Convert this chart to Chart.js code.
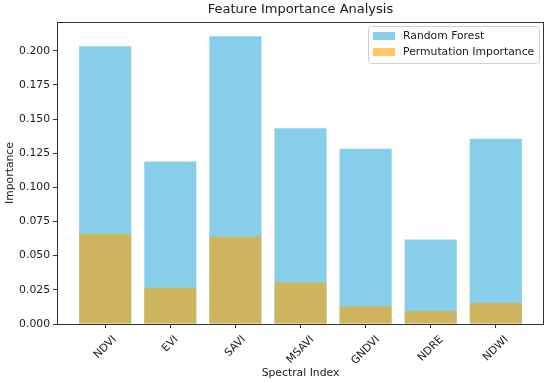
<!DOCTYPE html>
<html>
<head>
<meta charset="utf-8">
<script src="https://cdn.jsdelivr.net/npm/chart.js@4/dist/chart.umd.min.js"></script>
<style>
  body { margin: 0; background: #fff; }
</style>
</head>
<body>
<canvas id="chart" width="550" height="383"></canvas>
<script>
// Data
const indices = ['NDVI', 'EVI', 'SAVI', 'MSAVI', 'GNDVI', 'NDRE', 'NDWI'];
const randomForest = [0.2032, 0.1189, 0.2105, 0.1433, 0.1282, 0.0619, 0.1355];
const permutation = [0.0658, 0.0266, 0.0639, 0.0303, 0.0129, 0.0095, 0.0154];
const yTicks = [0, 0.025, 0.05, 0.075, 0.1, 0.125, 0.15, 0.175, 0.2];

const FONT = "'DejaVu Sans', sans-serif";
const TEXT = '#1a1a1a';
const rfColor = '#87ceeb';
const piColor = 'rgba(255, 165, 0, 0.6)';

// title, axis labels, rotated tick labels, frame and legend, matplotlib style
const decor = {
  id: 'decor',
  afterDraw(chart) {
    const ctx = chart.ctx;
    const area = chart.chartArea;
    const xs = chart.scales.x;
    ctx.save();
    ctx.fillStyle = TEXT;

    // frame
    ctx.strokeStyle = '#333';
    ctx.lineWidth = 1;
    ctx.strokeRect(area.left + 0.5, area.top + 0.5, area.right - area.left - 1, area.bottom - area.top);

    // title
    ctx.font = '13px ' + FONT;
    ctx.textAlign = 'center';
    ctx.textBaseline = 'middle';
    ctx.fillText('Feature Importance Analysis', (area.left + area.right) / 2, 10);

    // x tick labels, rotated 45 deg, centred under the tick
    ctx.font = '10.8px ' + FONT;
    indices.forEach((name, i) => {
      const w = ctx.measureText(name).width;
      const h = 11;
      const box = (w + h) * Math.SQRT1_2;
      const cx = xs.getPixelForValue(i);
      const cy = area.bottom + 10 + box / 2;
      ctx.save();
      ctx.translate(cx, cy);
      ctx.rotate(-Math.PI / 4);
      ctx.fillText(name, 0, 0);
      ctx.restore();
    });

    // axis titles
    ctx.fillText('Spectral Index', (area.left + area.right) / 2, 373);
    ctx.save();
    ctx.translate(10, (area.top + area.bottom) / 2);
    ctx.rotate(-Math.PI / 2);
    ctx.fillText('Importance', 0, 0);
    ctx.restore();

    // legend
    const lx = 368, ly = 26, lw = 171, lh = 37;
    ctx.beginPath();
    ctx.roundRect(lx + 0.5, ly + 0.5, lw, lh, 3);
    ctx.fillStyle = 'rgba(255,255,255,0.8)';
    ctx.fill();
    ctx.strokeStyle = '#d0d0d0';
    ctx.stroke();
    const rows = [['Random Forest', rfColor], ['Permutation Importance', piColor]];
    rows.forEach(([label, color], k) => {
      const ry = 36 + k * 16;
      ctx.fillStyle = color;
      ctx.fillRect(373, ry - 4, 22, 8);
      ctx.fillStyle = TEXT;
      ctx.textAlign = 'left';
      ctx.fillText(label, 403, ry);
    });
    ctx.restore();
  }
};

new Chart(document.getElementById('chart'), {
  type: 'bar',
  data: {
    datasets: [
      {
        label: 'Random Forest',
        data: randomForest.map((v, i) => ({ x: i, y: v })),
        backgroundColor: rfColor,
        borderWidth: 0,
        inflateAmount: 0,
        order: 2
      },
      {
        label: 'Permutation Importance',
        data: permutation.map((v, i) => ({ x: i, y: v })),
        backgroundColor: piColor,
        borderWidth: 0,
        inflateAmount: 0,
        order: 1
      }
    ]
  },
  options: {
    responsive: false,
    animation: false,
    devicePixelRatio: 1,
    layout: { padding: { top: 22, right: 6, left: 0, bottom: 0 } },
    datasets: {
      bar: { grouped: false, barPercentage: 0.8, categoryPercentage: 1.0 }
    },
    plugins: {
      legend: { display: false },
      title: { display: false },
      tooltip: { enabled: false }
    },
    scales: {
      x: {
        type: 'linear',
        offset: false,
        min: -0.74,
        max: 6.74,
        afterBuildTicks: s => { s.ticks = indices.map((_, i) => ({ value: i })); },
        afterFit: s => { s.height = 59; },
        ticks: { display: false },
        grid: { display: true, offset: false, drawOnChartArea: false, drawTicks: true, tickLength: 4, color: '#333' },
        border: { display: false }
      },
      y: {
        min: 0,
        max: 0.221,
        afterBuildTicks: s => { s.ticks = yTicks.map(v => ({ value: v })); },
        afterFit: s => { s.width = 57; },
        ticks: {
          padding: 3,
          color: TEXT,
          font: { family: FONT, size: 10.8 },
          callback: v => Number(v).toFixed(3)
        },
        grid: { display: true, drawOnChartArea: false, drawTicks: true, tickLength: 4, color: '#333' },
        border: { display: false }
      }
    }
  },
  plugins: [decor]
});
</script>
</body>
</html>
